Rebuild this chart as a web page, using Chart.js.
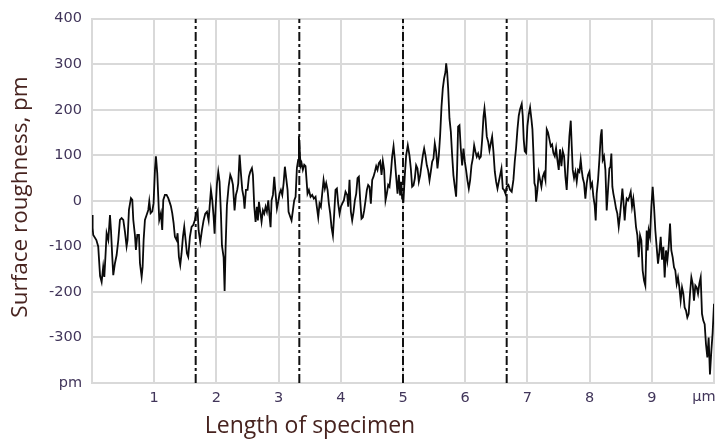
<!DOCTYPE html>
<html>
<head>
<meta charset="utf-8">
<script src="https://cdn.jsdelivr.net/npm/chart.js@4.4.1/dist/chart.umd.min.js"></script>
<style>
  html, body { margin: 0; padding: 0; background: #ffffff; }
  #wrap { width: 722px; height: 439px; }
</style>
</head>
<body>
<div id="wrap"><canvas id="c" width="722" height="439"></canvas></div>
<script>
// Positions along the specimen, µm
const positionsUm = [
  0.00,0.01,0.02,0.07,0.10,0.13,0.155,0.18,0.198,0.219,0.235,0.262,0.289,0.305,0.326,0.342,0.369,0.396,0.423,0.449,
  0.476,0.503,0.53,0.556,0.572,0.594,0.626,0.648,0.664,0.69,0.706,0.728,0.755,0.771,0.798,0.814,0.83,0.851,0.878,0.905,
  0.921,0.942,0.969,0.99,1.012,1.028,1.049,1.065,1.081,1.108,1.129,1.146,1.172,1.199,1.226,1.253,1.269,1.29,1.312,1.333,
  1.36,1.376,1.397,1.419,1.44,1.462,1.483,1.505,1.526,1.547,1.574,1.601,1.628,1.654,
  1.676,1.698,1.714,1.741,1.767,1.794,1.821,1.848,1.875,1.891,1.912,1.934,1.955,1.971,1.987,2.009,2.03,2.051,2.073,2.089,
  2.116,2.132,2.148,2.169,2.196,2.223,2.244,2.266,2.292,2.314,2.335,2.351,2.373,2.394,2.416,2.437,2.453,2.475,2.501,2.523,
  2.544,2.571,2.587,2.609,2.63,2.651,2.667,2.684,2.705,2.726,2.748,2.769,2.791,2.812,2.834,2.855,2.871,2.887,2.909,2.93,
  2.951,2.973,2.994,3.016,3.037,3.059,3.08,3.101,3.123,3.144,3.16,3.187,3.208,3.23,3.251,3.273,3.294,
  3.315,3.326,3.337,3.353,3.369,3.39,3.412,3.433,3.449,3.465,3.487,3.514,3.54,3.567,3.594,3.615,3.637,3.658,3.68,3.701,
  3.723,3.744,3.765,3.787,3.808,3.83,3.851,3.873,3.894,3.915,3.937,3.958,3.98,4.001,4.023,4.049,4.076,4.103,4.119,4.14,
  4.162,4.183,4.205,4.226,4.248,4.269,4.29,4.312,4.333,4.355,4.376,4.398,4.419,4.44,4.462,4.483,4.505,4.526,4.548,4.569,
  4.59,4.612,4.633,4.655,4.676,4.697,4.719,4.74,4.762,4.783,4.805,4.826,4.848,4.869,4.89,4.912,4.933,
  4.954,4.97,4.986,5.008,5.029,5.051,5.077,5.104,5.126,5.147,5.169,5.19,5.211,5.233,5.254,5.276,5.297,5.319,5.34,5.361,
  5.383,5.404,5.426,5.447,5.469,5.49,5.511,5.533,5.554,5.576,5.597,5.619,5.64,5.661,5.683,5.694,5.71,5.726,5.747,5.769,
  5.79,5.811,5.833,5.854,5.87,5.886,5.908,5.929,5.951,5.972,5.994,6.015,6.036,6.058,6.079,6.101,6.122,6.144,6.165,6.186,
  6.208,6.229,6.251,6.272,6.294,6.31,6.326,6.347,6.369,6.39,6.411,6.433,6.454,6.476,6.497,6.519,6.54,6.561,6.583,6.604,
  6.625,6.647,6.668,6.695,6.722,6.748,6.775,6.797,6.818,6.84,6.861,6.882,6.909,6.925,6.941,6.957,6.979,7.0,7.022,7.043,
  7.065,7.081,7.097,7.113,7.129,7.14,7.161,7.182,7.204,7.225,7.247,7.268,7.29,7.311,7.332,7.354,7.375,7.397,7.418,7.44,
  7.461,7.482,7.504,7.525,7.547,7.568,7.59,7.611,7.632,7.654,7.675,7.697,7.713,7.729,7.75,7.772,7.793,7.815,7.836,7.857,
  7.873,7.89,7.911,7.932,7.954,7.975,7.997,8.018,8.04,8.061,8.082,8.098,8.114,8.136,8.157,8.179,8.195,8.211,8.232,8.254,8.275,
  8.296,8.318,8.334,8.35,8.366,8.382,8.403,8.425,8.446,8.468,8.489,8.511,8.527,8.543,8.564,8.58,8.596,8.618,8.639,8.661,
  8.682,8.703,8.725,8.746,8.768,8.789,8.811,8.832,8.853,8.875,8.896,8.918,8.934,8.95,8.971,8.993,9.014,9.036,9.057,9.078,
  9.1,9.121,9.143,9.164,9.186,9.207,9.228,9.25,9.271,9.293,9.314,9.336,9.357,9.378,9.4,9.421,9.443,9.464,9.486,9.507,
  9.528,9.55,9.571,9.593,9.614,9.636,9.657,9.678,9.7,9.721,9.743,9.764,9.786,9.807,9.828,9.85,9.871,9.893,9.914,9.935,
  9.957,9.978,10.0
];
// Surface roughness, pm
const roughnessPm = [
  -31,-60,-75,-86,-100,-165,-178,-145,-167,-115,-71,-86,-31,-64,-123,-163,-137,-119,-86,-42,
  -38,-42,-68,-100,-86,-20,6,2,-42,-75,-108,-75,-75,-137,-167,-145,-86,-42,-31,-20,
  -1,-27,-23,-5,68,98,61,10,-42,-27,-64,2,13,13,6,-5,-12,-27,-49,-79,
  -86,-71,-123,-141,-115,-79,-57,-86,-115,-123,-79,-57,-53,-42,
  -28,-21,-65,-91,-65,-43,-28,-24,-43,-13,24,1,-35,-72,-17,38,64,42,-28,-98,
  -124,-198,-102,-10,31,57,49,35,-21,13,24,38,101,61,24,9,-17,24,24,53,
  64,72,57,-13,-46,-13,-43,-2,-24,-46,-21,-28,-13,-24,1,-35,-58,1,13,53,
  16,-17,-2,16,24,13,38,75,49,24,-24,-35,-43,-21,1,9,72,
  90,142,120,76,83,68,79,76,46,16,24,9,13,5,9,-13,-36,-6,-13,16,
  46,27,39,24,-6,-28,-58,-76,-28,24,27,-6,-28,-13,-6,1,20,13,-13,46,
  -24,-43,-24,1,16,50,53,1,-39,-36,-21,1,24,35,31,-6,46,53,64,76,
  68,83,87,57,87,68,1,16,35,31,61,98,120,90,53,16,57,
  12,42,5,1,56,100,122,100,71,31,34,49,78,71,42,56,78,100,115,100,
  78,67,45,64,86,93,126,108,71,100,144,207,247,269,283,302,283,247,181,152,
  100,56,31,9,71,163,166,115,78,115,86,67,45,27,45,78,93,122,108,97,
  104,93,97,133,185,203,181,141,130,111,126,141,108,64,42,27,42,56,71,27,
  24,16,31,35,24,20,46,87,116,157,187,201,213,187,135,109,105,164,190,205,
  179,157,105,39,31,-2,24,61,46,31,53,61,46,157,150,135,120,124,105,98,
  116,90,68,113,76,109,98,53,24,83,142,176,120,68,50,64,42,68,64,90,
  68,50,39,5,39,57,64,31,39,9,-10,-43,16,46,90,142,157,90,98,68,-21,
  24,71,75,104,31,16,1,-17,-28,-57,-32,1,27,1,-43,-13,5,1,9,20,
  -13,5,-24,-57,-76,-124,-76,-87,-153,-175,-186,-65,-109,-65,-79,-13,31,-13,-65,-101,
  -138,-113,-79,-129,-101,-168,-109,-131,-101,-50,-109,-124,-146,-153,-182,-168,-190,-219,-190,-204,
  -234,-241,-256,-248,-204,-168,-182,-219,-186,-190,-204,-182,-168,-248,-263,-271,-315,-344,-300,-381,
  -330,-290,-226
];
// Dashed section boundaries, µm
const sectionBoundariesUm = [1.667, 3.333, 5.0, 6.667];
// Axis extents / ticks
const yMinPm = -400, yMaxPm = 400, yStepPm = 100;
const xMinUm = 0, xMaxUm = 10, xStepUm = 1;
const yUnitLabel = 'pm';
const xUnitLabel = 'µm';
const yTitle = 'Surface roughness, pm';
const xTitle = 'Length of specimen';

const profilePoints = positionsUm.map((x, i) => ({ x: x, y: roughnessPm[i] }));

const datasets = [{
  label: 'profile',
  data: profilePoints,
  borderColor: '#0a0a0a',
  borderWidth: 1.8,
  pointRadius: 0,
  tension: 0,
  fill: false,
  order: 0
}];
sectionBoundariesUm.forEach((b) => {
  datasets.push({
    label: 'boundary',
    data: [{ x: b, y: yMinPm }, { x: b, y: yMaxPm }],
    borderColor: '#111111',
    borderWidth: 2,
    borderDash: [9, 3, 3, 3],
    pointRadius: 0,
    fill: false,
    order: 1
  });
});

const TITLE_COLOR = '#47231f';
const TICK_COLOR = '#41355a';

const textPlugin = {
  id: 'axisTexts',
  afterDraw(chart) {
    const ctx = chart.ctx;
    const xs = chart.scales.x;
    const area = chart.chartArea;
    ctx.save();
    // unit label at the end of x axis
    ctx.font = '14.5px "DejaVu Sans"';
    ctx.fillStyle = TICK_COLOR;
    ctx.textAlign = 'center';
    ctx.textBaseline = 'middle';
    ctx.fillText(xUnitLabel, xs.getPixelForValue(xMaxUm) - 10, area.bottom + 14);
    // x title
    ctx.font = '23px "Open Sans"';
    ctx.fillStyle = TITLE_COLOR;
    ctx.textAlign = 'center';
    ctx.textBaseline = 'alphabetic';
    ctx.fillText(xTitle, 310, 433);
    // y title
    ctx.font = '22.5px "Open Sans"';
    ctx.translate(21, 197);
    ctx.rotate(-Math.PI / 2);
    ctx.textBaseline = 'middle';
    ctx.fillText(yTitle, 0, 0);
    ctx.restore();
  }
};

new Chart(document.getElementById('c'), {
  type: 'line',
  data: { datasets: datasets },
  options: {
    responsive: false,
    animation: false,
    devicePixelRatio: 1,
    layout: { padding: { left: 0, right: 8, top: 18, bottom: 0 } },
    plugins: { legend: { display: false }, tooltip: { enabled: false } },
    scales: {
      x: {
        type: 'linear',
        min: xMinUm,
        max: xMaxUm,
        afterFit(s) { s.height = 56; },
        grid: { color: '#d9d9d9', lineWidth: 2, drawTicks: false },
        border: { color: '#d9d9d9', width: 2 },
        ticks: {
          stepSize: xStepUm,
          padding: 7,
          color: TICK_COLOR,
          font: { family: 'DejaVu Sans', size: 14.5 },
          maxRotation: 0,
          callback: (v) => (v === xMinUm || v === xMaxUm) ? '' : String(v)
        }
      },
      y: {
        type: 'linear',
        min: yMinPm,
        max: yMaxPm,
        afterFit(s) { s.width = 92; },
        grid: { color: '#d9d9d9', lineWidth: 2, drawTicks: false },
        border: { color: '#d9d9d9', width: 2 },
        ticks: {
          stepSize: yStepPm,
          padding: 10,
          color: TICK_COLOR,
          font: { family: 'DejaVu Sans', size: 14.5 },
          callback: (v) => v === yMinPm ? yUnitLabel : String(v)
        }
      }
    }
  },
  plugins: [textPlugin]
});
</script>
</body>
</html>
